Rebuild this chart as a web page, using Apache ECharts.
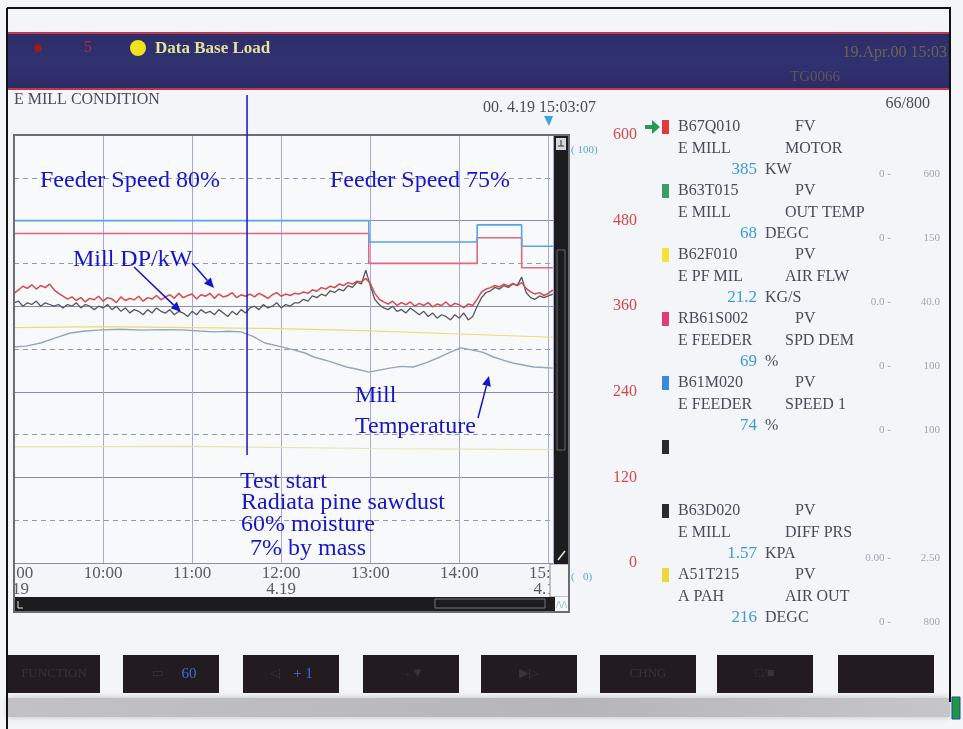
<!DOCTYPE html>
<html>
<head>
<meta charset="utf-8">
<title>E MILL CONDITION</title>
<script src="https://cdn.jsdelivr.net/npm/echarts@6/dist/echarts.min.js"></script>
<style>
  html, body { margin: 0; padding: 0; background: #f4f5f8; }
  #main { width: 963px; height: 729px; }
</style>
</head>
<body>
<div id="main"></div>
<script>
// ---- Trend window: minutes after 09:00 (19 Apr 2000), ending at 15:03:07 ----
const windowEnd = 363.1;
const hourLabels = ['09:00\n4.19', '10:00', '11:00', '12:00\n4.19', '13:00', '14:00', '15:00\n4.19'];
const testStartMinute = 157;

// ---- Tag panel (pens 1..8) ----
const tagIds    = ['B67Q010', 'B63T015', 'B62F010', 'RB61S002', 'B61M020', '', 'B63D020', 'A51T215'];
const tagModes  = ['FV', 'PV', 'PV', 'PV', 'PV', '', 'PV', 'PV'];
const tagPlants = ['E MILL', 'E MILL', 'E PF MIL', 'E FEEDER', 'E FEEDER', '', 'E MILL', 'A PAH'];
const tagItems  = ['MOTOR', 'OUT TEMP', 'AIR FLW', 'SPD DEM', 'SPEED 1', '', 'DIFF PRS', 'AIR OUT'];
const tagValues = ['385', '68', '21.2', '69', '74', '', '1.57', '216'];
const tagUnits  = ['KW', 'DEGC', 'KG/S', '%', '%', '', 'KPA', 'DEGC'];
const tagLow    = ['0', '0', '0.0', '0', '0', '', '0.00', '0'];
const tagHigh   = ['600', '150', '40.0', '100', '100', '', '2.50', '800'];
const tagIconColors = ['#e0383c', '#3a9e62', '#f2e23a', '#e03c7c', '#3a8ae0', '#2a2a2e', '#2a2a2e', '#ecd83a'];

// ---- Sampled trend values (engineering units) ----
// mill motor power (kW) and mill differential pressure (kPa), 3-minute samples
const sampleStep = 3;
const millPowerKW = [
  378, 383,
  388, 385, 390, 384, 389, 386, 391, 383,
  378, 374,
  370, 373, 368, 372, 366, 371, 369, 374, 367, 372, 370, 365, 373, 368, 371, 369, 374, 367, 372, 370, 375, 369,
  373, 376, 371, 378, 372, 375, 377, 370, 376, 374, 378, 371, 377, 373, 375, 379, 372, 376, 374, 377, 373, 378, 375, 371, 376, 379, 374, 377, 375, 378,
  377, 380, 378, 383, 381, 386, 384, 388, 386, 391, 389, 393, 391, 395, 394, 399,
  392, 378, 370,
  366, 363, 367, 361, 365, 362, 366, 360, 364, 361, 365, 359, 363, 361, 366, 360, 364, 362, 358, 363, 361,
  370, 380, 384,
  386, 389, 387, 391, 388, 392, 389, 393,
  385, 380, 377, 379, 375, 378, 383
];
const millDiffKPa = [
  1.52, 1.53,
  1.50, 1.52, 1.51, 1.53, 1.50, 1.52, 1.51, 1.50,
  1.51, 1.49,
  1.51, 1.50, 1.52, 1.49, 1.51, 1.50, 1.48, 1.50, 1.49, 1.51, 1.48, 1.50, 1.47, 1.49, 1.46, 1.48, 1.47, 1.45, 1.48, 1.46, 1.49, 1.47,
  1.46, 1.48, 1.45, 1.47, 1.46, 1.44, 1.47, 1.45, 1.48, 1.46, 1.47, 1.45, 1.48, 1.46, 1.44, 1.47, 1.45, 1.48, 1.46,
  1.49, 1.50, 1.48, 1.51, 1.49, 1.50, 1.52, 1.49, 1.51, 1.50, 1.52,
  1.52, 1.54, 1.53, 1.56, 1.55, 1.57, 1.56, 1.59, 1.58, 1.60, 1.59, 1.62, 1.61, 1.64, 1.63, 1.71,
  1.62, 1.54, 1.51,
  1.49, 1.48, 1.50, 1.47, 1.48, 1.46, 1.49, 1.47, 1.45, 1.47, 1.44, 1.46, 1.43, 1.45, 1.44, 1.42, 1.45, 1.43, 1.46, 1.42, 1.44,
  1.50, 1.55, 1.58,
  1.59, 1.61, 1.60, 1.62, 1.61, 1.63, 1.62, 1.67,
  1.58, 1.55, 1.54, 1.56, 1.55, 1.56, 1.57
];

// mill outlet temperature (DEGC)
const outTempMinutes = [0, 8, 18, 28, 38, 48, 59, 72, 86, 100, 113, 125, 135, 145, 153, 161, 169, 179, 189, 196,
  202, 213, 224, 232, 239, 246, 253, 261, 269, 278, 287, 294, 301, 309, 316, 323, 330, 336, 343, 350, 357, 363];
const outTempDegC = [75.7, 76.0, 77.1, 78.9, 80.6, 81.3, 81.7, 81.9, 81.6, 81.8, 81.7, 81.3, 81.0, 81.2, 81.0, 79.4, 77.1, 75.9, 74.6, 73.6,
  72.2, 70.6, 68.7, 67.8, 66.9, 67.6, 68.3, 68.9, 68.7, 70.2, 72.2, 73.9, 75.4, 74.6, 73.8, 72.2, 71.0, 70.1, 69.4, 68.7, 68.5, 68.3];

// PF mill air flow (kg/s) and PAH air outlet temperature (DEGC)
const airFlowMinutes = [0, 60, 120, 180, 240, 300, 363];
const airFlowKgs = [22.0, 22.1, 22.0, 21.9, 21.7, 21.4, 21.1];
const airOutMinutes = [0, 120, 240, 363];
const airOutDegC = [217, 218, 214, 212];

// feeder speed demand and feeder speed (%), stepwise
const feederMinutes = [0, 239, 312, 342, 363];
const feederDemandPct = [77, 70, 76, 69, 69];
const feederSpeedPct = [80, 75, 79, 74, 74];

// ---- helpers ----
const sampleMinutes = millPowerKW.map((_, i) => i * sampleStep);
function scaled(times, values, tag) {
  const lo = Number(tagLow[tag]), hi = Number(tagHigh[tag]);
  return times.map((t, i) => [t, (values[i] - lo) / (hi - lo) * 600]);
}
function lineSeries(name, data, color, width, extra) {
  return Object.assign({
    name, type: 'line', yAxisIndex: 1, data,
    showSymbol: false, symbol: 'none', silent: true,
    lineStyle: { color, width }
  }, extra || {});
}

const SCREEN_FONT = '"Liberation Serif", "DejaVu Serif", serif';
const INK = '#4a4a58';
const NOTE = '#1616c8';

const chart = echarts.init(document.getElementById('main'));

chart.setOption({
  backgroundColor: '#f4f5f8',
  animation: false,
  grid: { left: 14, top: 135, width: 539, height: 428, containLabel: false, outerBoundsMode: 'none',
          show: true, backgroundColor: '#f8f9fb', borderWidth: 0 },
  xAxis: {
    type: 'value', min: 0, max: windowEnd, interval: 60,
    axisLine: { show: false }, axisTick: { show: false },
    splitLine: { show: true, lineStyle: { color: '#a8a8da', width: 1 } },
    axisLabel: {
      color: '#5a5a64', fontFamily: SCREEN_FONT, fontSize: 17, lineHeight: 16, margin: 3,
      showMaxLabel: false, hideOverlap: false,
      formatter: v => hourLabels[v / 60] || ''
    }
  },
  yAxis: [
    { type: 'value', min: 0, max: 600, interval: 60, position: 'right',
      axisLine: { show: false }, axisTick: { show: false }, axisLabel: { show: false },
      splitLine: { lineStyle: { color: '#9696b6', width: 1, type: [5, 4] } } },
    { type: 'value', min: 0, max: 600, interval: 120, position: 'right',
      axisLine: { show: false }, axisTick: { show: false },
      axisLabel: { color: '#d4484c', fontFamily: SCREEN_FONT, fontSize: 16, align: 'right', margin: 84 },
      splitLine: { lineStyle: { color: '#8a8ab0', width: 1 } } }
  ],
  series: [
    lineSeries('A51T215', scaled(airOutMinutes, airOutDegC, 7), '#e6e6a6', 1.2),
    lineSeries('B62F010', scaled(airFlowMinutes, airFlowKgs, 2), '#e8de74', 1.2),
    lineSeries('B63T015', scaled(outTempMinutes, outTempDegC, 1), '#94a4be', 1.4),
    lineSeries('RB61S002', scaled(feederMinutes, feederDemandPct, 3), '#e2687c', 1.6, { step: 'end' }),
    lineSeries('B61M020', scaled(feederMinutes, feederSpeedPct, 4), '#5aa2e6', 1.6, { step: 'end' }),
    lineSeries('B63D020', scaled(sampleMinutes, millDiffKPa, 6), '#56565f', 1.3),
    lineSeries('B67Q010', scaled(sampleMinutes, millPowerKW, 0), '#d84a4c', 1.5)
  ]
});

// ---- screen furniture, tag panel and notes ----
function txt(x, y, s, fill, font, align, z) {
  return { type: 'text', x, y, z: z || 50, silent: true,
    style: { text: s, fill, font, align: align || 'left', verticalAlign: 'middle',
             textAlign: align || 'left', textVerticalAlign: 'middle' } };
}
function rect(x, y, w, h, fill, stroke, lw, z) {
  return { type: 'rect', z: z || 40, silent: true, shape: { x, y, width: w, height: h },
    style: { fill: fill || 'none', stroke: stroke || null, lineWidth: lw || 1 } };
}
function seg(x1, y1, x2, y2, stroke, lw, z) {
  return { type: 'line', z: z || 60, silent: true, shape: { x1, y1, x2, y2 },
    style: { stroke, lineWidth: lw || 1 } };
}
function arrow(x1, y1, x2, y2, color) {
  const a = Math.atan2(y2 - y1, x2 - x1), L = 10, W = 4.5;
  const bx = x2 - L * Math.cos(a), by = y2 - L * Math.sin(a);
  return [
    seg(x1, y1, bx, by, color, 1.5, 70),
    { type: 'polygon', z: 70, silent: true,
      shape: { points: [[x2, y2], [bx + W * Math.sin(a), by - W * Math.cos(a)], [bx - W * Math.sin(a), by + W * Math.cos(a)]] },
      style: { fill: color } }
  ];
}

const g = [];
const panelFont = '16px ' + SCREEN_FONT;

// page border
g.push(seg(7, 8, 951, 8, '#111', 2, 90), seg(7, 8, 7, 729, '#111', 2, 90), seg(950, 8, 950, 702, '#111', 2, 90));

// header bar
g.push({ type: 'rect', z: 40, silent: true, shape: { x: 8, y: 33, width: 942, height: 57 },
  style: { fill: new echarts.graphic.LinearGradient(0, 0, 0, 1, [
    { offset: 0, color: '#2c2d68' }, { offset: 0.5, color: '#30316f' }, { offset: 1, color: '#2a2b66' }]) } });
g.push(seg(8, 33, 950, 33, '#c0384a', 2, 45), seg(8, 89, 950, 89, '#c0384a', 2, 45));
g.push({ type: 'circle', z: 50, silent: true, shape: { cx: 38, cy: 48, r: 4 }, style: { fill: '#9a1c22' } });
g.push(txt(84, 48, '5', '#b82a2e', '16px ' + SCREEN_FONT));
g.push({ type: 'circle', z: 50, silent: true, shape: { cx: 138, cy: 48, r: 8 }, style: { fill: '#f2e21e' } });
g.push(txt(155, 49, 'Data Base Load', '#e6e29c', 'bold 17px ' + SCREEN_FONT));
g.push(txt(947, 53, '19.Apr.00 15:03', '#6e6256', '16px ' + SCREEN_FONT, 'right'));
g.push(txt(790, 77, 'TG0066', '#5e5656', '15px ' + SCREEN_FONT));

// screen title line
g.push(txt(14, 100, 'E MILL CONDITION', INK, panelFont));
g.push(txt(483, 108, '00. 4.19 15:03:07', INK, panelFont));
g.push(txt(930, 104, '66/800', INK, panelFont, 'right'));
g.push({ type: 'polygon', z: 60, silent: true, shape: { points: [[544, 116], [553, 116], [549, 126]] }, style: { fill: '#3aa2e2' } });

// trend frame, scroll bars and clipped label strip
g.push(rect(0, 563, 15, 34, '#f4f5f8', null, 1, 80));
g.push(rect(550, 564, 19, 33, '#f6f7f9', '#8a8a92', 1, 80));
g.push(rect(554, 136, 14, 428, '#1c1c1f', null, 1, 82));
g.push(rect(556, 138, 10, 12, '#d6d6da', null, 1, 83));
g.push(seg(558, 146, 564, 146, '#333', 1, 84), seg(561, 140, 561, 146, '#333', 1, 84));
g.push(rect(557, 250, 8, 200, null, '#66666c', 1, 83));
g.push(seg(558, 560, 565, 551, '#e6e6e6', 1.5, 84));
g.push(rect(15, 597, 540, 14, '#1c1c1f', null, 1, 82));
g.push(rect(435, 599, 110, 9, null, '#77777c', 1, 83));
g.push(seg(18, 601, 18, 608, '#e0e0e0', 1, 84), seg(18, 608, 23, 608, '#e0e0e0', 1, 84));
g.push(rect(555, 597, 14, 15, '#f6f7f9', null, 1, 82));
g.push(txt(556, 605, '/\\/\\', '#5aa6e6', '10px ' + SCREEN_FONT, 'left', 84));
g.push(rect(14, 135, 555, 477, null, '#6c6c74', 2, 88));
g.push(txt(571, 150, '( 100)', '#5aa2e2', '11px ' + SCREEN_FONT));
g.push(txt(571, 577, '(   0)', '#5aa2e2', '11px ' + SCREEN_FONT));

// tag panel
g.push({ type: 'polygon', z: 60, silent: true,
  shape: { points: [[645, 125], [652, 125], [652, 120], [660, 127], [652, 134], [652, 129], [645, 129]] },
  style: { fill: '#2a9a52' } });
tagIds.forEach((id, i) => {
  const y0 = 127 + 64 * i;
  g.push(rect(662, y0 - 7, 7, 14, tagIconColors[i], null, 1, 55));
  if (!id) return;
  g.push(txt(678, y0, id, INK, panelFont));
  g.push(txt(795, y0, tagModes[i], INK, panelFont));
  g.push(txt(678, y0 + 22, tagPlants[i], INK, panelFont));
  g.push(txt(785, y0 + 22, tagItems[i], INK, panelFont));
  g.push(txt(757, y0 + 43, tagValues[i], '#3a9ae2', '17px ' + SCREEN_FONT, 'right'));
  g.push(txt(765, y0 + 43, tagUnits[i], INK, panelFont));
  g.push(txt(891, y0 + 47, tagLow[i] + ' -', '#a2a6b8', '11px ' + SCREEN_FONT, 'right'));
  g.push(txt(940, y0 + 47, tagHigh[i], '#a2a6b8', '11px ' + SCREEN_FONT, 'right'));
});

// function keys
const keyX = [8, 123, 243, 363, 481, 600, 717, 838];
const keyText = ['FUNCTION', '▭', '◁', '→▼', '▶▷', 'CHNG', '□/■', ''];
const keyTextX = [54, 158, 275, 411, 529, 648, 765, 886];
keyX.forEach((x, i) => {
  g.push(rect(x, 655, i === 0 ? 92 : 96, 38, '#221c21', null, 1, 40));
  g.push(txt(keyTextX[i], 674, keyText[i], '#3a3338', '13px ' + SCREEN_FONT, 'center'));
});
g.push(txt(189, 674, '60', '#3f6ed6', '15px ' + SCREEN_FONT, 'center', 51));
g.push(txt(303, 674, '+ 1', '#3f6ed6', '15px ' + SCREEN_FONT, 'center', 51));
g.push({ type: 'rect', z: 40, silent: true, shape: { x: 8, y: 698, width: 942, height: 19 },
  style: { fill: new echarts.graphic.LinearGradient(0, 0, 1, 0, [
    { offset: 0, color: '#c2c2c4' }, { offset: 0.6, color: '#b6b6b8' }, { offset: 1, color: '#c6c6c8' }]),
    shadowBlur: 6, shadowColor: 'rgba(150,150,150,0.6)' } });
g.push(rect(952, 697, 8, 22, '#1c9a3c', '#2040c0', 1, 45));

// notes on the trend
const noteFont = '24px "Liberation Serif", "Times New Roman", serif';
g.push(txt(40, 181, 'Feeder Speed 80%', NOTE, noteFont, 'left', 70));
g.push(txt(330, 181, 'Feeder Speed 75%', NOTE, noteFont, 'left', 70));
g.push(txt(73, 260, 'Mill DP/kW', NOTE, noteFont, 'left', 70));
g.push(...arrow(134, 267, 181, 312, NOTE));
g.push(...arrow(192, 263, 214, 288, NOTE));
g.push(txt(355, 396, 'Mill', NOTE, noteFont, 'left', 70));
g.push(txt(355, 427, 'Temperature', NOTE, noteFont, 'left', 70));
g.push(...arrow(478, 418, 489, 376, NOTE));
g.push(txt(240, 482, 'Test start', NOTE, noteFont, 'left', 70));
g.push(txt(241, 503, 'Radiata pine sawdust', NOTE, noteFont, 'left', 70));
g.push(txt(241, 525, '60% moisture', NOTE, noteFont, 'left', 70));
g.push(txt(250, 549, '7% by mass', NOTE, noteFont, 'left', 70));
const testX = chart.convertToPixel({ xAxisIndex: 0 }, testStartMinute);
g.push(seg(testX, 95, testX, 455, NOTE, 1.5, 95));

chart.setOption({ graphic: { elements: g } });
</script>
</body>
</html>
